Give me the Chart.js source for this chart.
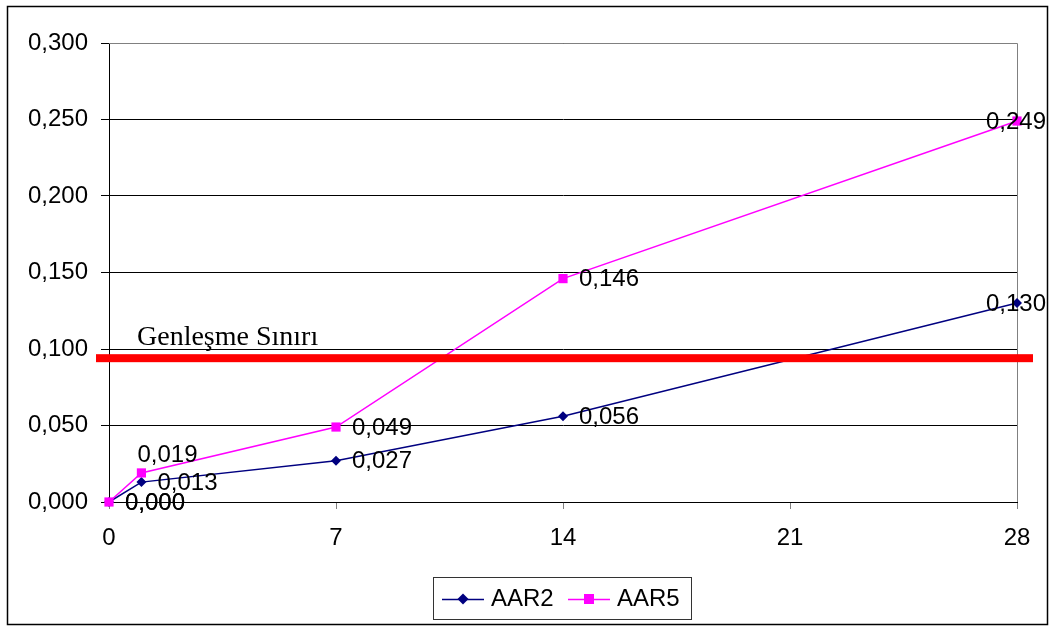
<!DOCTYPE html>
<html>
<head>
<meta charset="utf-8">
<script src="https://cdn.jsdelivr.net/npm/chart.js@4/dist/chart.umd.min.js"></script>
<style>
  html, body { margin: 0; padding: 0; background: #fff; }
  #wrap { width: 1052px; height: 626px; }
</style>
</head>
<body>
<div id="wrap"><canvas id="chart" width="1052" height="626"></canvas></div>
<script>
// days
const days = [0, 1, 7, 14, 28];
// expansion values
const aar2 = [0.000, 0.013, 0.027, 0.056, 0.130];
const aar5 = [0.000, 0.019, 0.049, 0.146, 0.249];
const seriesNames = ['AAR2', 'AAR5'];
const xTicks = [0, 7, 14, 21, 28];
const yTicks = [0, 0.05, 0.1, 0.15, 0.2, 0.25, 0.3];
const limitValue = 0.094;
const limitLabel = 'Genleşme Sınırı';

const FONT = '"Liberation Sans", Arial, sans-serif';
const fmt = v => Number(v).toFixed(3).replace('.', ',');

function toPoints(ys) {
  return days.map((d, i) => ({ x: d, y: ys[i] }));
}

// frame, gray plot border, limit line, value labels and legend
const decor = {
  id: 'decor',
  beforeDatasetsDraw(chart) {
    const { ctx, chartArea: a } = chart;
    ctx.save();
    ctx.strokeStyle = '#808080';
    ctx.lineWidth = 1;
    ctx.beginPath();
    ctx.moveTo(a.left, Math.round(a.top) + 0.5);
    ctx.lineTo(Math.round(a.right) + 0.5, Math.round(a.top) + 0.5);
    ctx.lineTo(Math.round(a.right) + 0.5, a.bottom);
    ctx.stroke();
    ctx.restore();
  },
  afterDatasetsDraw(chart, args, opts) {
    const { ctx } = chart;
    const y = chart.scales.y.getPixelForValue(limitValue);
    ctx.save();
    ctx.fillStyle = '#ff0000';
    ctx.fillRect(96, y - 4, 937, 8);

    ctx.fillStyle = '#000';
    ctx.font = '28px "Liberation Serif", "Times New Roman", serif';
    ctx.textBaseline = 'alphabetic';
    ctx.fillText(limitLabel, 137, y - 13);

    // data labels
    ctx.font = '24px ' + FONT;
    ctx.textBaseline = 'middle';
    chart.data.datasets.forEach((ds, di) => {
      const meta = chart.getDatasetMeta(di);
      meta.data.forEach((pt, i) => {
        const txt = fmt(ds.data[i].y);
        const w = ctx.measureText(txt).width;
        let tx = pt.x + 16;
        let ty = pt.y + 1;
        const ov = opts.overrides[di + ':' + i];
        if (ov) { tx = pt.x + ov[0]; ty = pt.y + ov[1]; }
        if (tx + w > opts.rightLimit) tx = opts.rightLimit - w;
        ctx.fillText(txt, tx, ty);
      });
    });
    ctx.restore();
  },
  afterDraw(chart) {
    const { ctx } = chart;
    ctx.save();
    // outer frame
    ctx.strokeStyle = '#000';
    ctx.lineWidth = 1.5;
    ctx.strokeRect(7.5, 6.5, 1040, 618);

    // legend
    ctx.lineWidth = 1;
    ctx.strokeStyle = '#333';
    ctx.strokeRect(433.5, 577.5, 258, 42);
    const items = [
      { x: 442, ds: chart.data.datasets[0] },
      { x: 568, ds: chart.data.datasets[1] }
    ];
    const ly = 599;
    ctx.font = '24px ' + FONT;
    ctx.textBaseline = 'middle';
    items.forEach(it => {
      ctx.strokeStyle = it.ds.borderColor;
      ctx.lineWidth = 1.5;
      ctx.beginPath();
      ctx.moveTo(it.x, ly + 0.5);
      ctx.lineTo(it.x + 42, ly + 0.5);
      ctx.stroke();
      const cx = it.x + 21;
      ctx.fillStyle = it.ds.backgroundColor;
      ctx.beginPath();
      if (it.ds.pointStyle === 'rectRot') {
        ctx.moveTo(cx - 5.5, ly);
        ctx.lineTo(cx, ly - 5.5);
        ctx.lineTo(cx + 5.5, ly);
        ctx.lineTo(cx, ly + 5.5);
        ctx.closePath();
      } else {
        ctx.rect(cx - 5, ly - 5, 10, 10);
      }
      ctx.fill();
      ctx.fillStyle = '#000';
      ctx.fillText(it.ds.label, it.x + 49, ly);
    });
    ctx.restore();
  }
};

new Chart(document.getElementById('chart'), {
  type: 'line',
  data: {
    datasets: [
      {
        label: seriesNames[0],
        data: toPoints(aar2),
        borderColor: '#000080',
        backgroundColor: '#000080',
        borderWidth: 1.5,
        pointStyle: 'rectRot',
        pointRadius: 5,
        pointBorderWidth: 0,
        clip: false,
        order: 1
      },
      {
        label: seriesNames[1],
        data: toPoints(aar5),
        borderColor: '#ff00ff',
        backgroundColor: '#ff00ff',
        borderWidth: 1.5,
        pointStyle: 'rect',
        pointRadius: 6.5,
        pointBorderWidth: 0,
        clip: false,
        order: 0
      }
    ]
  },
  options: {
    responsive: false,
    animation: false,
    layout: { padding: { left: 8, top: 43, right: 35, bottom: 24 } },
    plugins: {
      legend: { display: false },
      tooltip: { enabled: false },
      decor: {
        rightLimit: 1046,
        overrides: { '1:1': [-4, -18] }
      }
    },
    scales: {
      x: {
        type: 'linear',
        min: xTicks[0],
        max: xTicks[xTicks.length - 1],
        afterBuildTicks: s => { s.ticks = xTicks.map(v => ({ value: v })); },
        afterFit: s => { s.height = 100; },
        ticks: { color: '#000', font: { family: FONT, size: 24 }, padding: 15, maxRotation: 0 },
        grid: { drawOnChartArea: false, drawTicks: true, tickLength: 7, tickColor: '#808080' },
        border: { color: '#000', width: 1 }
      },
      y: {
        min: yTicks[0],
        max: yTicks[yTicks.length - 1],
        afterBuildTicks: s => { s.ticks = yTicks.map(v => ({ value: v })); },
        afterFit: s => { s.width = 101; },
        ticks: {
          color: '#000',
          font: { family: FONT, size: 24 },
          padding: 13,
          callback: v => fmt(v)
        },
        grid: { color: '#000', tickColor: '#000', tickLength: 8, lineWidth: 1 },
        border: { color: '#000', width: 1 }
      }
    }
  },
  plugins: [decor]
});
</script>
</body>
</html>
